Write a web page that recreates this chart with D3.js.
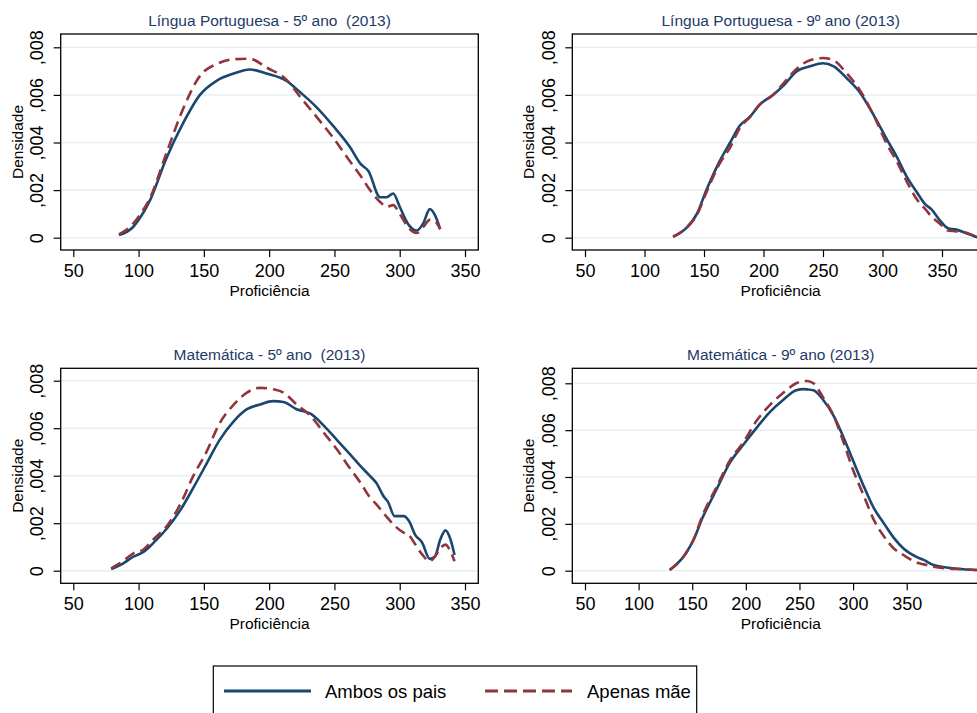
<!DOCTYPE html>
<html>
<head>
<meta charset="utf-8">
<script src="https://cdn.jsdelivr.net/npm/d3@7"></script>
<style>
  body { margin: 0; background: white; }
  svg { display: block; font-family: "Liberation Sans", Arial, sans-serif; }
</style>
</head>
<body>
<div id="grafico"></div>
<script>
// ---- dados ----
const xTicks = [50, 100, 150, 200, 250, 300, 350];
const yTicks = [0, 0.002, 0.004, 0.006, 0.008];
const yLabels = ["0", ",002", ",004", ",006", ",008"];
const series = ["Ambos os pais", "Apenas mãe"];
const titulos = [
  "Língua Portuguesa - 5º ano  (2013)",
  "Língua Portuguesa - 9º ano (2013)",
  "Matemática - 5º ano  (2013)",
  "Matemática - 9º ano (2013)"
];

// Língua Portuguesa 5º ano
const lp5X     = [85, 96, 100, 109, 121, 134, 147, 160, 173, 185, 198, 213, 224, 236, 249, 262, 270, 276, 285, 290, 295, 300, 307, 313, 318, 323, 327, 331];
const lp5Ambos = [.00011, .00046, .00074, .0016, .0033, .0048, .006, .0066, .0069, .00707, .0069, .0066, .0061, .0055, .0047, .0038, .0031, .0028, .0017, .0017, .00186, .0013, .00053, .0003, .0006, .0012, .00095, .00036];
const lp5Mae   = [.00014, .0006, .00088, .0017, .0035, .0054, .0068, .0073, .0075, .00752, .00715, .00665, .0059, .0051, .0042, .0032, .0026, .0021, .0015, .0013, .00137, .001, .0004, .0002, .00045, .00075, .0007, .00036];

// Língua Portuguesa 9º ano
const lp9X     = [124, 135, 144, 152, 163, 172, 180, 189, 197, 208, 217, 228, 239, 250, 259, 270, 281, 292, 304, 312, 320, 329, 336, 341, 348, 355, 361, 371, 380];
const lp9Ambos = [.00004, .0004, .001, .002, .0032, .004, .0047, .0051, .0056, .006, .0064, .007, .0072, .00733, .0072, .0067, .0061, .0052, .0041, .0034, .0026, .0019, .0014, .0012, .00074, .0004, .00035, .00018, .00001];
const lp9Mae   = [.00004, .0004, .00095, .0019, .0031, .0038, .0046, .0051, .0056, .006, .0065, .0071, .00746, .00755, .00745, .0069, .0062, .0052, .0039, .0032, .0024, .0016, .0012, .0009, .0006, .0003, .00027, .0002, .00001];

// Matemática 5º ano
const mt5X     = [79, 88, 96, 104, 111, 122, 132, 142, 152, 162, 173, 183, 193, 203, 211, 221, 232, 242, 252, 262, 270, 277, 282, 288, 291, 296, 303, 307, 312, 317, 323, 327, 331, 335, 339, 342];
const mt5Ambos = [.00007, .0003, .00059, .0008, .00115, .0018, .00255, .0035, .0045, .0055, .0063, .0068, .007, .00714, .0071, .0068, .0066, .0061, .0055, .0049, .0044, .004, .0037, .0031, .0029, .0023, .0023, .0021, .0015, .0012, .0005, .0006, .0013, .0017, .0013, .00066];
const mt5Mae   = [.0001, .0004, .00073, .0009, .0013, .0019, .0028, .004, .005, .0062, .007, .0075, .0077, .00764, .0075, .007, .0065, .0058, .0051, .0043, .0037, .0031, .0028, .0024, .0022, .0019, .0016, .0015, .0011, .0007, .0004, .0006, .00094, .0011, .0008, .0004];

// Matemática 9º ano
const mt9X     = [129, 143, 151, 160, 173, 185, 198, 210, 223, 235, 247, 254, 257, 263, 272, 282, 291, 300, 310, 319, 329, 338, 347, 360, 366, 375, 387, 403, 415, 427];
const mt9Ambos = [.00003, .00067, .0013, .0023, .0035, .0046, .0054, .0061, .0068, .0073, .0077, .00775, .00774, .0077, .0073, .0066, .0057, .0047, .0036, .0027, .002, .0014, .00095, .00057, .00046, .00024, .00014, .00006, .00003, .00001];
const mt9Mae   = [.00003, .00067, .0013, .0024, .0036, .0047, .0055, .0064, .0071, .0076, .008, .0081, .0081, .008, .0074, .0066, .0055, .0043, .0032, .0022, .00145, .00095, .00067, .00034, .00027, .00017, .0001, .00006, .00003, .00001];

const dados = [
  { x: lp5X, a: lp5Ambos, m: lp5Mae },
  { x: lp9X, a: lp9Ambos, m: lp9Mae },
  { x: mt5X, a: mt5Ambos, m: mt5Mae },
  { x: mt9X, a: mt9Ambos, m: mt9Mae }
];

// ---- layout (posições em pixels de cada painel) ----
const paineis = [
  { l: 60.7, r: 478.3, t: 34, b: 250, x50: 73.3, x350: 465, y0: 237.7, y8: 47.3 },
  { l: 572.3, r: 989, t: 34, b: 250, x50: 585, x350: 942, y0: 237.7, y8: 47.3 },
  { l: 60.7, r: 478.3, t: 368.3, b: 583.3, x50: 73.3, x350: 465, y0: 570.7, y8: 380.7 },
  { l: 572.3, r: 989.3, t: 368.3, b: 583.3, x50: 585, x350: 906.7, y0: 570.7, y8: 383.3 }
];

const corAmbos = "#1a476f";
const corMae = "#90353b";

const svg = d3.select("#grafico").append("svg")
  .attr("width", 977).attr("height", 713);

paineis.forEach((p, i) => {
  const d = dados[i];
  const x = d3.scaleLinear().domain([50, 350]).range([p.x50, p.x350]);
  const y = d3.scaleLinear().domain([0, 0.008]).range([p.y0, p.y8]);
  const g = svg.append("g");

  // grade horizontal
  g.selectAll("line.grade").data(yTicks).join("line")
    .attr("class", "grade")
    .attr("x1", p.l).attr("x2", p.r)
    .attr("y1", v => y(v)).attr("y2", v => y(v))
    .attr("stroke", "#e6eef2").attr("stroke-width", 1.5);

  // curvas
  const linha = (ys) => d3.line()
    .x((v, k) => x(d.x[k]))
    .y(v => y(v))
    .curve(d3.curveMonotoneX)(ys);

  g.append("path").attr("d", linha(d.a))
    .attr("fill", "none").attr("stroke", corAmbos).attr("stroke-width", 2.6);
  g.append("path").attr("d", linha(d.m))
    .attr("fill", "none").attr("stroke", corMae).attr("stroke-width", 2.6)
    .attr("stroke-dasharray", "11,6");

  // moldura
  g.append("rect")
    .attr("x", p.l).attr("y", p.t)
    .attr("width", p.r - p.l).attr("height", p.b - p.t)
    .attr("fill", "none").attr("stroke", "black").attr("stroke-width", 1.3);

  // eixo x
  const eixoX = g.append("g")
    .attr("transform", "translate(0," + p.b + ")")
    .call(d3.axisBottom(x).tickValues(xTicks).tickSize(7).tickPadding(7).tickFormat(d3.format("d")));
  eixoX.select(".domain").remove();
  eixoX.selectAll("line").attr("stroke", "black").attr("stroke-width", 1.2);
  eixoX.selectAll("text").attr("font-size", "18px").attr("fill", "black")
    .attr("font-family", "Liberation Sans, Arial, sans-serif");

  // eixo y
  const eixoY = g.append("g")
    .attr("transform", "translate(" + p.l + ",0)")
    .call(d3.axisLeft(y).tickValues(yTicks).tickSize(7).tickFormat((v, k) => yLabels[k]));
  eixoY.select(".domain").remove();
  eixoY.selectAll("line").attr("stroke", "black").attr("stroke-width", 1.2);
  eixoY.selectAll("text")
    .attr("transform", "rotate(-90)")
    .attr("x", 0).attr("y", -17.4).attr("dy", 0)
    .attr("text-anchor", "middle")
    .attr("font-size", "18px").attr("fill", "black")
    .attr("font-family", "Liberation Sans, Arial, sans-serif");

  // títulos dos eixos
  g.append("text")
    .attr("x", (p.l + p.r) / 2).attr("y", p.b + 45.7)
    .attr("text-anchor", "middle").attr("font-size", "15.5px")
    .text("Proficiência");
  g.append("text")
    .attr("transform", "translate(" + (p.l - 38) + "," + (p.t + p.b) / 2 + ") rotate(-90)")
    .attr("text-anchor", "middle").attr("font-size", "15.5px")
    .text("Densidade");

  // título do painel
  g.append("text")
    .attr("x", (p.l + p.r) / 2).attr("y", p.t - 8)
    .attr("text-anchor", "middle").attr("font-size", "15.5px")
    .attr("fill", "#1e3a68").style("white-space", "pre")
    .text(titulos[i]);
});

// ---- legenda ----
const leg = svg.append("g");
leg.append("rect")
  .attr("x", 213.3).attr("y", 666).attr("width", 483.4).attr("height", 70)
  .attr("fill", "white").attr("stroke", "black").attr("stroke-width", 1.2);

const legItens = [
  { nome: series[0], cor: corAmbos, dash: null, x1: 224, x2: 311, tx: 325 },
  { nome: series[1], cor: corMae, dash: "13,6", x1: 485, x2: 572, tx: 587 }
];
legItens.forEach(it => {
  leg.append("line")
    .attr("x1", it.x1).attr("x2", it.x2).attr("y1", 691).attr("y2", 691)
    .attr("stroke", it.cor).attr("stroke-width", 3)
    .attr("stroke-dasharray", it.dash);
  leg.append("text")
    .attr("x", it.tx).attr("y", 697.5)
    .attr("font-size", "18.5px").attr("fill", "black")
    .text(it.nome);
});
</script>
</body>
</html>
